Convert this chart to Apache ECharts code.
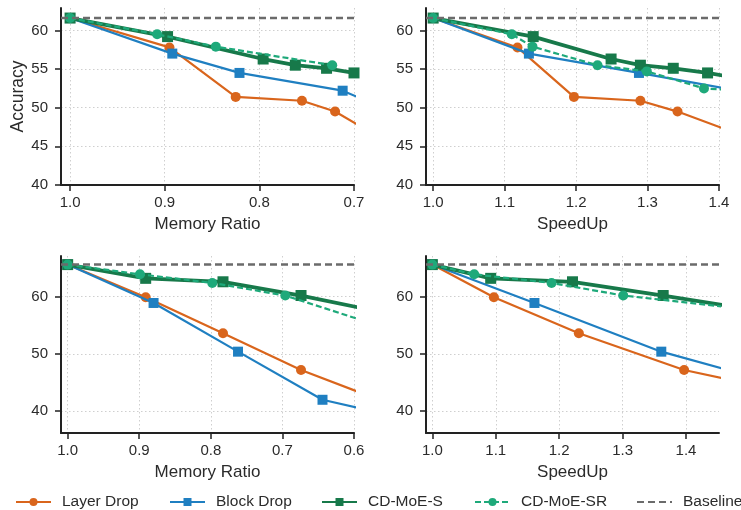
<!DOCTYPE html>
<html>
<head>
<meta charset="utf-8">
<style>html,body{margin:0;padding:0;background:#fff;}#chart{width:741px;height:510px;}</style>
<script src="https://cdn.jsdelivr.net/npm/echarts@6/dist/echarts.min.js"></script>
</head>
<body>
<div id="chart"></div>
<script>
// ---------- data ----------
const baselineTop = 61.6;
const baselineBottom = 65.6;

// top-left: Memory Ratio
const tlLayerX = [1.0, 0.895, 0.825, 0.755, 0.72, 0.657];
const tlLayerY = [61.6, 57.8, 51.4, 50.9, 49.5, 45.0];
const tlBlockX = [1.0, 0.892, 0.821, 0.712, 0.67];
const tlBlockY = [61.6, 57.0, 54.5, 52.2, 50.0];
const tlSX = [1.0, 0.897, 0.796, 0.762, 0.729, 0.70, 0.66];
const tlSY = [61.6, 59.2, 56.3, 55.5, 55.1, 54.5, 53.5];
const tlSRX = [1.0, 0.908, 0.846, 0.723];
const tlSRY = [61.6, 59.5, 57.9, 55.5];

// top-right: SpeedUp
const trLayerX = [1.0, 1.118, 1.197, 1.290, 1.342, 1.474];
const trLayerY = [61.6, 57.8, 51.4, 50.9, 49.5, 45.0];
const trBlockX = [1.0, 1.134, 1.288, 1.426, 1.5];
const trBlockY = [61.6, 57.0, 54.5, 52.2, 50.0];
const trSX = [1.0, 1.140, 1.249, 1.290, 1.336, 1.384, 1.447];
const trSY = [61.6, 59.2, 56.3, 55.5, 55.1, 54.5, 53.5];
const trSRX = [1.0, 1.110, 1.139, 1.230, 1.299, 1.379, 1.465];
const trSRY = [61.6, 59.5, 57.9, 55.5, 54.7, 52.5, 52.0];

// bottom-left: Memory Ratio
const blLayerX = [1.0, 0.891, 0.783, 0.674, 0.565];
const blLayerY = [65.6, 59.9, 53.6, 47.2, 42.0];
const blBlockX = [1.0, 0.880, 0.762, 0.644, 0.539];
const blBlockY = [65.6, 58.9, 50.4, 42.0, 39.0];
const blSX = [1.0, 0.891, 0.783, 0.674, 0.550];
const blSY = [65.6, 63.2, 62.6, 60.2, 57.0];
const blSRX = [1.0, 0.899, 0.798, 0.696, 0.567];
const blSRY = [65.6, 63.9, 62.4, 60.2, 55.0];

// bottom-right: SpeedUp
const brLayerX = [1.0, 1.097, 1.231, 1.397, 1.618];
const brLayerY = [65.6, 59.9, 53.6, 47.2, 42.0];
const brBlockX = [1.0, 1.161, 1.361, 1.636];
const brBlockY = [65.6, 58.9, 50.4, 42.0];
const brSX = [1.0, 1.092, 1.221, 1.364, 1.545];
const brSY = [65.6, 63.2, 62.6, 60.2, 57.0];
const brSRX = [1.0, 1.066, 1.188, 1.301, 1.726];
const brSRY = [65.6, 63.9, 62.4, 60.2, 55.0];

// axis ticks
const memTicksTop = [1.0, 0.9, 0.8, 0.7];
const speedTicksTop = [1.0, 1.1, 1.2, 1.3, 1.4];
const memTicksBottom = [1.0, 0.9, 0.8, 0.7, 0.6];
const speedTicksBottom = [1.0, 1.1, 1.2, 1.3, 1.4];
const accTicksTop = [40, 45, 50, 55, 60];
const accTicksBottom = [40, 50, 60];

const seriesNames = ['Layer Drop', 'Block Drop', 'CD-MoE-S', 'CD-MoE-SR', 'Baseline'];

// ---------- chart ----------
const FONT = '"Liberation Sans", Arial, Helvetica, sans-serif';
const TXT = '#2b2b2b';
const AX = '#222222';

const xRanges = [[0.7, 1.0096], [0.99, 1.4], [0.6, 1.0093], [0.99, 1.452]];
const yRanges = [[40, 62.9], [40, 62.9], [36.2, 67.1], [36.2, 67.1]];
const xTicks = [memTicksTop, speedTicksTop, memTicksBottom, speedTicksBottom];
const yTicks = [accTicksTop, accTicksTop, accTicksBottom, accTicksBottom];
const xNames = ['Memory Ratio', 'SpeedUp', 'Memory Ratio', 'SpeedUp'];
const xInverse = [true, false, true, false];
const baselines = [baselineTop, baselineTop, baselineBottom, baselineBottom];

const grids = [
  {left: 61, top: 8, width: 293, height: 177},
  {left: 426, top: 8, width: 293, height: 177},
  {left: 61, top: 256, width: 293, height: 177},
  {left: 426, top: 256, width: 293, height: 177}
];

const splitLine = {show: true, lineStyle: {color: '#cfcfcf', width: 1, type: [1.5, 2.5]}};

const xAxes = grids.map((g, i) => ({
  type: 'value', gridIndex: i, min: xRanges[i][0], max: xRanges[i][1], inverse: xInverse[i],
  name: xNames[i], nameLocation: 'middle', nameGap: 31,
  nameTextStyle: {fontSize: 17, color: TXT, fontFamily: FONT},
  axisLine: {show: true, onZero: false, lineStyle: {color: AX, width: 2}},
  axisTick: {show: true, length: 6, lineStyle: {color: AX, width: 1.5}, customValues: xTicks[i]},
  axisLabel: {fontSize: 15, color: TXT, fontFamily: FONT, margin: 10, customValues: xTicks[i],
    formatter: v => Number(v).toFixed(1)},
  splitLine: splitLine
}));

const yAxes = grids.map((g, i) => ({
  type: 'value', gridIndex: i, min: yRanges[i][0], max: yRanges[i][1],
  name: i === 0 ? 'Accuracy' : '', nameLocation: 'middle', nameGap: 33,
  nameTextStyle: {fontSize: 17.5, color: TXT, fontFamily: FONT},
  axisLine: {show: true, onZero: false, lineStyle: {color: AX, width: 2}},
  axisTick: {show: true, length: 6, lineStyle: {color: AX, width: 1.5}, customValues: yTicks[i]},
  axisLabel: {fontSize: 15, color: TXT, fontFamily: FONT, margin: 13, customValues: yTicks[i],
    formatter: v => String(Math.round(v))},
  splitLine: splitLine
}));

const styles = {
  'Layer Drop': {color: '#d9651c', width: 2.2, type: 'solid', symbol: 'circle', size: 10},
  'Block Drop': {color: '#1f7fc1', width: 2.2, type: 'solid', symbol: 'rect', size: 10},
  'CD-MoE-S': {color: '#17794a', width: 3.8, type: 'solid', symbol: 'rect', size: 11},
  'CD-MoE-SR': {color: '#1ea97a', width: 2.2, type: [6, 3], symbol: 'circle', size: 10},
  'Baseline': {color: '#6b6b6b', width: 2.5, type: [7, 4], symbol: 'none', size: 0}
};

function zip(xs, ys) { return xs.map((x, k) => [x, ys[k]]); }

const panelData = [
  [[tlLayerX, tlLayerY], [tlBlockX, tlBlockY], [tlSX, tlSY], [tlSRX, tlSRY]],
  [[trLayerX, trLayerY], [trBlockX, trBlockY], [trSX, trSY], [trSRX, trSRY]],
  [[blLayerX, blLayerY], [blBlockX, blBlockY], [blSX, blSY], [blSRX, blSRY]],
  [[brLayerX, brLayerY], [brBlockX, brBlockY], [brSX, brSY], [brSRX, brSRY]]
];

const series = [];
panelData.forEach((panel, i) => {
  panel.forEach((pair, j) => {
    const name = seriesNames[j];
    const s = styles[name];
    series.push({
      type: 'line', name: name, xAxisIndex: i, yAxisIndex: i,
      data: zip(pair[0], pair[1]),
      symbol: s.symbol, symbolSize: s.size, showSymbol: true,
      lineStyle: {color: s.color, width: s.width, type: s.type},
      itemStyle: {color: s.color},
      clip: true, z: 2 + j
    });
  });
  const b = styles['Baseline'];
  series.push({
    type: 'line', name: 'Baseline', xAxisIndex: i, yAxisIndex: i,
    data: [[xRanges[i][0], baselines[i]], [xRanges[i][1], baselines[i]]],
    symbol: 'none', lineStyle: {color: b.color, width: b.width, type: b.type},
    itemStyle: {color: b.color}, clip: true, z: 10
  });
});

const legendLeft = [15, 169, 321, 474, 636];
const legends = seriesNames.map((n, i) => {
  const isBase = n === 'Baseline';
  const lg = {
    data: [n],
    left: legendLeft[i], top: 494, padding: 0, itemWidth: 35, itemHeight: 10, itemGap: 0,
    textStyle: {fontSize: 15.5, color: TXT, fontFamily: FONT, padding: [0, 0, 0, 6]},
    selectedMode: false
  };
  if (isBase) lg.itemStyle = {opacity: 0};
  return lg;
});

const chart = echarts.init(document.getElementById('chart'), null, {renderer: 'canvas'});
chart.setOption({
  backgroundColor: '#ffffff',
  animation: false,
  grid: grids,
  xAxis: xAxes,
  yAxis: yAxes,
  legend: legends,
  series: series
});
</script>
</body>
</html>
